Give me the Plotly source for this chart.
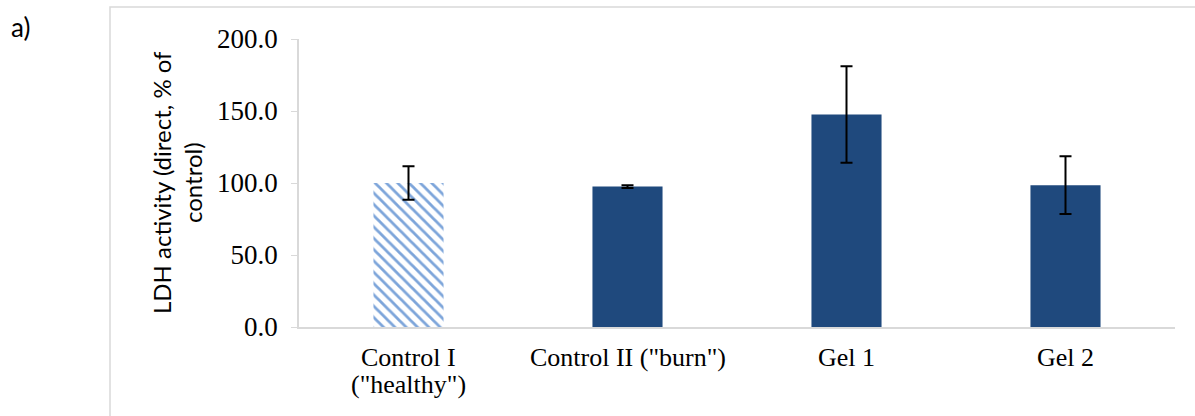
import plotly.graph_objects as go

categories = ["Control I", "Control II", "Gel 1", "Gel 2"]
label_lines = [["Control I", '("healthy")'], ['Control II ("burn")'], ["Gel 1"], ["Gel 2"]]
values = [100.0, 97.5, 147.5, 98.5]
errors = [11.7, 1.0, 33.5, 20.0]
hatched = [True, False, False, False]
y_ticks = [0, 50, 100, 150, 200]
y_tick_labels = ["0.0", "50.0", "100.0", "150.0", "200.0"]

dark = "#1F497D"
grid = "#D9D9D9"

fig = go.Figure()
hx = [c for c, h in zip(categories, hatched) if h]
hy = [v for v, h in zip(values, hatched) if h]
he = [e for e, h in zip(errors, hatched) if h]
sx = [c for c, h in zip(categories, hatched) if not h]
sy = [v for v, h in zip(values, hatched) if not h]
se = [e for e, h in zip(errors, hatched) if not h]

err_style = dict(type="data", visible=True, color="black", thickness=2, width=6)

fig.add_trace(go.Bar(
    x=hx, y=hy, width=0.32,
    marker=dict(color="#7DA5DA", line=dict(width=0),
                pattern=dict(shape="\\", fgcolor="#7DA5DA", bgcolor="white",
                             size=8, solidity=0.35, fillmode="replace")),
    error_y=dict(array=he, **err_style), showlegend=False,
))
fig.add_trace(go.Bar(
    x=sx, y=sy, width=0.32,
    marker=dict(color=dark, line=dict(width=0)),
    error_y=dict(array=se, **err_style), showlegend=False,
))

annotations = [
    dict(text="LDH activity (direct, % of<br>control)", xref="paper", yref="paper",
         x=(177 - 299) / 876, y=0.5, xanchor="center", yanchor="middle",
         textangle=-90, showarrow=False,
         font=dict(family="Lato", size=24, color="black")),
    dict(text="a)", xref="paper", yref="paper",
         x=(9 - 299) / 876, y=(327 - 27) / 288, xanchor="left", yanchor="middle",
         showarrow=False, font=dict(family="Lato", size=26, color="black")),
]
for c, lines in zip(categories, label_lines):
    for i, line in enumerate(lines):
        annotations.append(dict(
            text=line, xref="x", yref="paper", x=c, y=(327 - 357 - 27 * i) / 288,
            xanchor="center", yanchor="middle", showarrow=False,
            font=dict(family="Liberation Serif", size=26, color="black")))

fig.update_layout(
    width=1195, height=416,
    margin=dict(l=299, r=20, t=39, b=89),
    paper_bgcolor="white", plot_bgcolor="white",
    barmode="overlay",
    xaxis=dict(categoryorder="array", categoryarray=categories,
               showline=True, linecolor=grid, linewidth=2, ticks="", showgrid=False,
               showticklabels=False),
    yaxis=dict(range=[0, 200], tickvals=y_ticks, ticktext=y_tick_labels,
               showline=True, linecolor=grid, linewidth=1.5, ticks="outside",
               ticklen=6, tickcolor=grid, showgrid=False, zeroline=False,
               tickfont=dict(family="Liberation Serif", size=27, color="black"),
               ticklabelstandoff=8),
    shapes=[dict(type="rect", xref="paper", yref="paper",
                 x0=(110 - 299) / 876, x1=1.2, y0=-0.5, y1=(327 - 7) / 288,
                 line=dict(color=grid, width=1.5), fillcolor="rgba(0,0,0,0)", layer="below")],
    annotations=annotations,
)

fig.write_html("out.html")
